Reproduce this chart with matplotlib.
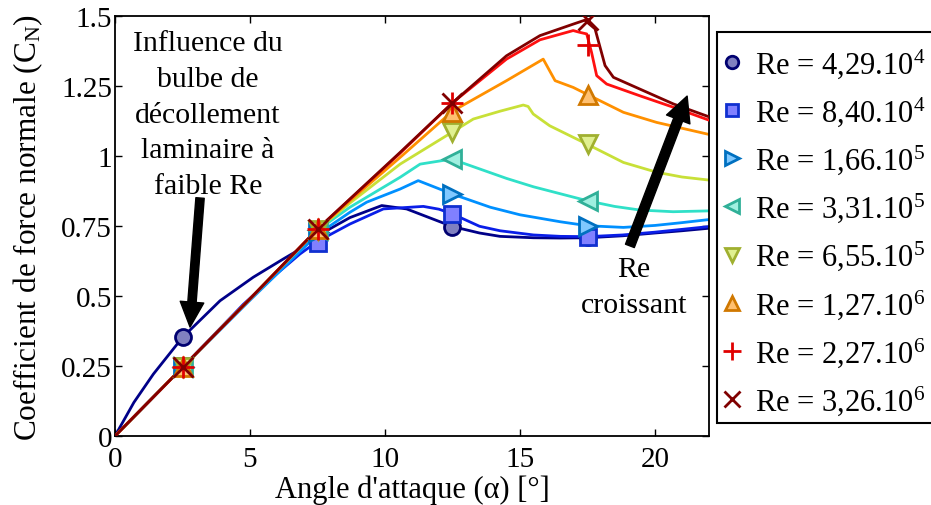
import matplotlib
matplotlib.use("Agg")
import matplotlib.pyplot as plt
from matplotlib.lines import Line2D
from matplotlib.patches import Rectangle

plt.rcParams['font.family'] = ['Liberation Serif', 'DejaVu Serif']
plt.rcParams['mathtext.fontset'] = 'custom'
plt.rcParams['mathtext.rm'] = 'Liberation Serif'
plt.rcParams['mathtext.it'] = 'Liberation Serif:italic'

# ---- data ----
labels = ["Re = 4,29.10$^{4}$", "Re = 8,40.10$^{4}$", "Re = 1,66.10$^{5}$",
          "Re = 3,31.10$^{5}$", "Re = 6,55.10$^{5}$", "Re = 1,27.10$^{6}$",
          "Re = 2,27.10$^{6}$", "Re = 3,26.10$^{6}$"]

a1 = [0, 0.7, 1.42, 2.5, 3.89, 5.12, 6.23, 6.97, 7.5, 8.7, 9.88, 10.8, 11.5, 12.5, 13.5, 14.26, 15.5, 16.5, 17.5, 18.8, 20, 21, 22]
c1 = [0, 0.12, 0.221, 0.352, 0.483, 0.567, 0.632, 0.674, 0.715, 0.78, 0.823, 0.811, 0.785, 0.748, 0.725, 0.713, 0.708, 0.707, 0.708, 0.715, 0.725, 0.733, 0.742]

a2 = [0, 2.5, 4.75, 6.0, 6.85, 7.5, 8.7, 9.94, 11.42, 12.0, 12.5, 13.5, 14.26, 15.5, 16.5, 17.5, 18.8, 20, 21, 22]
c2 = [0, 0.245, 0.47, 0.58, 0.65, 0.695, 0.757, 0.811, 0.820, 0.81, 0.793, 0.749, 0.733, 0.718, 0.713, 0.712, 0.718, 0.728, 0.738, 0.748]

a3 = [0, 2.5, 5, 7.5, 8.7, 9.32, 10.56, 11.23, 12.5, 13.9, 15, 16.5, 17.5, 18.83, 20, 21, 22]
c3 = [0, 0.245, 0.485, 0.72, 0.799, 0.835, 0.882, 0.912, 0.864, 0.817, 0.79, 0.765, 0.751, 0.745, 0.752, 0.762, 0.773]

a4 = [0, 2.5, 5, 7.5, 8.7, 10.56, 11.3, 12.47, 13.5, 14.5, 15.5, 16.5, 17.5, 18.5, 19.44, 20.67, 22]
c4 = [0, 0.245, 0.49, 0.735, 0.817, 0.924, 0.971, 0.989, 0.954, 0.92, 0.89, 0.865, 0.84, 0.82, 0.807, 0.801, 0.804]

a5 = [0, 2.5, 5, 7.5, 8.7, 10.56, 12.47, 13.27, 14.26, 15.12, 15.3, 15.49, 16.1, 17.47, 18.83, 20.06, 21, 22]
c5 = [0, 0.245, 0.49, 0.737, 0.832, 0.971, 1.084, 1.132, 1.16, 1.182, 1.177, 1.15, 1.108, 1.043, 0.977, 0.942, 0.925, 0.914]

a6 = [0, 2.5, 5, 7.5, 8.7, 10.56, 12.5, 14.5, 15.86, 16.3, 16.97, 17.47, 18.83, 20.06, 22]
c6 = [0, 0.245, 0.49, 0.738, 0.840, 0.995, 1.16, 1.269, 1.346, 1.269, 1.245, 1.221, 1.156, 1.12, 1.077]

a7 = [0, 2.5, 5, 7.5, 10.56, 12.5, 14.5, 15.74, 16.97, 17.2, 17.47, 17.65, 17.84, 18.21, 19.44, 20.68, 22]
c7 = [0, 0.245, 0.49, 0.739, 1.01, 1.19, 1.346, 1.415, 1.448, 1.442, 1.436, 1.37, 1.287, 1.257, 1.215, 1.174, 1.128]

a8 = [0, 2.5, 5, 7.5, 10.56, 12.5, 14.5, 15.74, 16.97, 17.4, 17.78, 18.15, 18.46, 19.44, 20.68, 22]
c8 = [0, 0.245, 0.49, 0.739, 1.013, 1.19, 1.358, 1.43, 1.471, 1.485, 1.454, 1.323, 1.281, 1.239, 1.186, 1.14]

marker_alpha = [2.5, 7.5, 12.5, 17.5]
m1 = [0.352, 0.715, 0.748, 0.710]
m2 = [0.25, 0.69, 0.793, 0.712]
m3 = [0.245, 0.73, 0.864, 0.751]
m4 = [0.245, 0.735, 0.989, 0.840]
m5 = [0.245, 0.737, 1.084, 1.043]
m6 = [0.245, 0.738, 1.156, 1.218]
m7 = [0.245, 0.739, 1.19, 1.396]
m8 = [0.245, 0.739, 1.19, 1.486]

xticks = [0, 5, 10, 15, 20]
yticks = [0, 0.25, 0.5, 0.75, 1, 1.25, 1.5]
yticklabels = ["0", "0.25", "0.5", "0.75", "1", "1.25", "1.5"]

# ---- styles ----
curves = [(a1, c1, m1), (a2, c2, m2), (a3, c3, m3), (a4, c4, m4),
          (a5, c5, m5), (a6, c6, m6), (a7, c7, m7), (a8, c8, m8)]
line_colors = ['#000088', '#0a1ee8', '#0090ff', '#30e0c8', '#c8e038', '#ff9000', '#ff1010', '#800000']
face_colors = ['#8080c0', '#8080ff', '#80c8ff', '#a0f0e0', '#e0f090', '#ffc070', '#e00000', '#800000']
edge_colors = ['#000070', '#1030d0', '#0070c0', '#30b098', '#a0b030', '#d07800', '#e00000', '#800000']
markers = ['o', 's', '>', '<', 'v', '^', '+', 'x']
msizes = [11.5, 11, 13, 13, 13, 13, 16, 14]
lmsizes = [9, 8, 10, 10, 10, 10, 13, 11]

W, H = 931, 506
fig = plt.figure(figsize=(W / 100, H / 100), dpi=100)
ax = fig.add_axes([115/W, 1 - 437/H, (709 - 115)/W, (437 - 17)/H])

for i, (a, c, m) in enumerate(curves):
    ax.plot(a, c, color=line_colors[i], lw=2.0, zorder=2 + i * 0.1)
for i, (a, c, m) in enumerate(curves):
    ax.plot(marker_alpha, m, linestyle='none', marker=markers[i], ms=msizes[i],
            mfc=face_colors[i], mec=edge_colors[i], mew=2.0, zorder=3 + i * 0.1)

ax.set_xlim(0, 22)
ax.set_ylim(0, 1.5)
ax.set_xticks(xticks)
ax.set_xticklabels([str(t) for t in xticks])
ax.set_yticks(yticks)
ax.set_yticklabels(yticklabels)
ax.tick_params(direction='in', top=True, right=True, length=5, width=1, labelsize=21)
ax.tick_params(axis='x', pad=7)
ax.tick_params(axis='y', pad=2)
for s in ax.spines.values():
    s.set_linewidth(1.3)

ax.set_xlabel("Angle d'attaque (α) [°]", fontsize=22, labelpad=2)
ax.set_ylabel("Coefficient de force normale (C$_{\\mathrm{N}}$)", fontsize=22.5, labelpad=12)

# annotations
ax.text(3.44, 1.148, "Influence du\nbulbe de\ndécollement\nlaminaire à\nfaible Re",
        ha='center', va='center', fontsize=21.5, linespacing=1.48)
ax.annotate("", xy=(2.78, 0.389), xytext=(3.15, 0.85),
            arrowprops=dict(arrowstyle="simple,head_length=0.9,head_width=0.85,tail_width=0.3",
                            color='k', shrinkA=0, shrinkB=0, mutation_scale=20))
ax.text(19.22, 0.532, "Re\ncroissant", ha='center', va='center', fontsize=21.5, linespacing=1.5)
ax.annotate("", xy=(21.19, 1.214), xytext=(19.07, 0.679),
            arrowprops=dict(arrowstyle="simple,head_length=0.9,head_width=0.9,tail_width=0.34",
                            color='k', shrinkA=0, shrinkB=0, mutation_scale=20))

# legend frame drawn separately, legend entries without frame
fig.patches.append(Rectangle((717/W, 1 - 424/H), 240/W, (424 - 33)/H, transform=fig.transFigure,
                             facecolor='white', edgecolor='black', linewidth=1.5, zorder=0))
handles = [Line2D([], [], linestyle='none', marker=markers[i], ms=lmsizes[i],
                  mfc=face_colors[i], mec=edge_colors[i], mew=2.0) for i in range(8)]
leg = fig.legend(handles, labels, loc='upper left', bbox_to_anchor=(717/W, 1 - 41/H),
                 fontsize=22, frameon=False,
                 handlelength=0.6, handletextpad=0.45, borderpad=0.2, labelspacing=0.48,
                 borderaxespad=0)

fig.savefig("out.png", dpi=100)
